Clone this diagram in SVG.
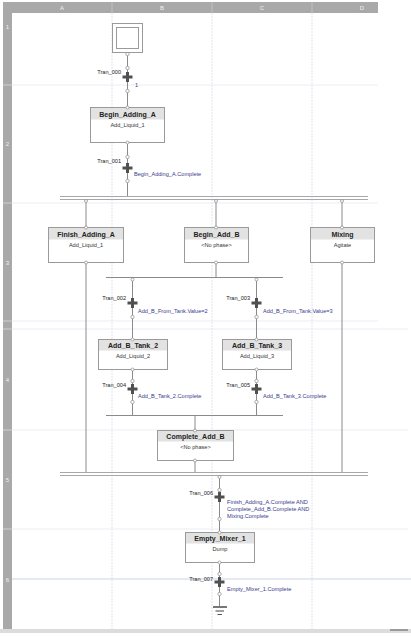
<svg xmlns="http://www.w3.org/2000/svg" width="411" height="636" viewBox="0 0 411 636">
<defs>
<style>
text{font-family:"Liberation Sans",Arial,sans-serif}
.hdr{fill:#a9a9a9}
.hdrt{font-size:6px;fill:#f0f0f0;text-anchor:middle}
.grid{stroke:#d9dcea;stroke-width:0.8;stroke-dasharray:2 1;fill:none}
.row{stroke:#e6e8f0;stroke-width:0.8;fill:none}
.ln{stroke:#8a8a8a;stroke-width:1;fill:none}
.dbl{stroke:#a8a8a8;stroke-width:1;fill:none}
.box{fill:#fff;stroke:#9a9a9a;stroke-width:1}
.bh{fill:#e2e2e2}
.ttl{font-size:7px;font-weight:bold;fill:#222;text-anchor:middle}
.sub{font-size:5.6px;fill:#333;text-anchor:middle}
.tn{font-size:5.6px;fill:#222;text-anchor:end}
.cond{font-size:5.6px;fill:#3a3a8c}
.pin{fill:#fff;stroke:#8a8a8a;stroke-width:0.7}
.cross{fill:#505050}
</style>
<g id="crossdef"><rect class="cross" x="-1.5" y="-5" width="3" height="10"/><rect class="cross" x="-5" y="-1.5" width="10" height="3"/></g>
</defs>
<rect width="411" height="636" fill="#fff"/>
<!-- grid / headers -->
<g id="grid">
<rect class="hdr" x="3" y="2" width="375" height="11"/>
<rect class="hdr" x="3" y="13" width="9" height="617"/>
<path d="M112 2V13M212 2V13M312 2V13" stroke="#c8c8c8" stroke-width="0.8"/>
<text class="hdrt" x="62" y="10">A</text>
<text class="hdrt" x="162" y="10">B</text>
<text class="hdrt" x="262" y="10">C</text>
<text class="hdrt" x="362" y="10">D</text>
<path d="M3 85H12M3 203H12M3 321H12M3 329H12M3 430H12M3 529H12" stroke="#d0d0d0" stroke-width="1.2"/>
<text class="hdrt" x="7.5" y="29">1</text>
<text class="hdrt" x="7.5" y="146">2</text>
<text class="hdrt" x="7.5" y="265">3</text>
<text class="hdrt" x="7.5" y="382">4</text>
<text class="hdrt" x="7.5" y="482">5</text>
<text class="hdrt" x="7.5" y="582">6</text>
<path class="grid" d="M112 13V630M212 13V630M312 13V630"/>
<path class="row" d="M12 85H378M12 203H378M12 321H378M12 329H408M12 430H408M12 529H408"/>
<path d="M12 579H411" stroke="#bcc8e0" stroke-width="0.8"/>
<rect x="0" y="629" width="411" height="4" fill="#dcdcdc"/>
<rect x="390" y="629" width="18" height="2" fill="#9a9a9a"/>
</g>
<!-- connectors -->
<g id="connectors">
<path class="ln" d="M127.5 54V107M127.5 142V196"/>
<path class="dbl" d="M60 196.5H368M60 199.5H368"/>
<path class="ln" d="M86 200V227M216 200V227M342 200V227"/>
<path class="ln" d="M216 262V277"/>
<path class="ln" d="M106 277.5H283"/>
<path class="ln" d="M132.5 278V339M256.5 278V339"/>
<path class="ln" d="M132.5 369V415M256.5 369V415"/>
<path class="ln" d="M106 415.5H283"/>
<path class="ln" d="M195 416V430M195 460V472"/>
<path class="ln" d="M86 262V472M342 262V472"/>
<path class="dbl" d="M60 472.5H368M60 475.5H368"/>
<path class="ln" d="M219.5 476V532M219.5 562V606"/>
<path d="M213 607H227" stroke="#555" stroke-width="1.6"/>
<path d="M215.5 611H224" stroke="#555" stroke-width="1.1"/>
<path d="M217.5 614.5H222" stroke="#555" stroke-width="1"/>
<!-- pins -->
<g>
<circle class="pin" cx="127.5" cy="54" r="1.7"/>
<circle class="pin" cx="127.5" cy="68" r="1.7"/>
<circle class="pin" cx="127.5" cy="91" r="1.7"/>
<circle class="pin" cx="127.5" cy="157" r="1.7"/>
<circle class="pin" cx="127.5" cy="181" r="1.7"/>
<circle class="pin" cx="86" cy="201" r="1.5"/>
<circle class="pin" cx="216" cy="201" r="1.5"/>
<circle class="pin" cx="342" cy="201" r="1.5"/>
<circle class="pin" cx="132.5" cy="279.5" r="1.5"/>
<circle class="pin" cx="256.5" cy="279.5" r="1.5"/>
<circle class="pin" cx="132.5" cy="317" r="1.7"/>
<circle class="pin" cx="256.5" cy="317" r="1.7"/>
<circle class="pin" cx="132.5" cy="381" r="1.7"/>
<circle class="pin" cx="256.5" cy="381" r="1.7"/>
<circle class="pin" cx="132.5" cy="402" r="1.7"/>
<circle class="pin" cx="256.5" cy="402" r="1.7"/>
<circle class="pin" cx="219.5" cy="477" r="1.5"/>
<circle class="pin" cx="219.5" cy="490" r="1.7"/>
<circle class="pin" cx="219.5" cy="519" r="1.7"/>
<circle class="pin" cx="219.5" cy="574" r="1.7"/>
<circle class="pin" cx="219.5" cy="594" r="1.7"/>
</g>
</g>
<!-- initial step -->
<g id="initial_step">
<rect x="112.5" y="23.5" width="30" height="29" fill="#fff" stroke="#9a9a9a" stroke-width="1"/>
<rect x="116.5" y="27.5" width="22" height="21" fill="#fff" stroke="#9a9a9a" stroke-width="1"/>
</g>
<!-- transitions -->
<g id="Tran_000"><use href="#crossdef" x="127.5" y="77"/><text class="tn" x="121" y="74">Tran_000</text><text class="cond" x="135" y="87">1</text></g>
<g id="Tran_001"><use href="#crossdef" x="127.5" y="168"/><text class="tn" x="121" y="163">Tran_001</text><text class="cond" x="134" y="176">Begin_Adding_A.Complete</text></g>
<g id="Tran_002"><use href="#crossdef" x="132.5" y="303"/><text class="tn" x="126" y="300">Tran_002</text><text class="cond" x="138" y="313">Add_B_From_Tank.Value=2</text></g>
<g id="Tran_003"><use href="#crossdef" x="256.5" y="303"/><text class="tn" x="250" y="300">Tran_003</text><text class="cond" x="263" y="313">Add_B_From_Tank.Value=3</text></g>
<g id="Tran_004"><use href="#crossdef" x="132.5" y="389"/><text class="tn" x="126" y="387">Tran_004</text><text class="cond" x="138" y="398">Add_B_Tank_2.Complete</text></g>
<g id="Tran_005"><use href="#crossdef" x="256.5" y="389"/><text class="tn" x="250" y="387">Tran_005</text><text class="cond" x="263" y="398">Add_B_Tank_3.Complete</text></g>
<g id="Tran_006"><use href="#crossdef" x="219.5" y="497"/><text class="tn" x="213" y="495">Tran_006</text><text class="cond" x="227" y="504">Finish_Adding_A.Complete AND</text><text class="cond" x="227" y="511">Complete_Add_B.Complete AND</text><text class="cond" x="227" y="518">Mixing.Complete</text></g>
<g id="Tran_007"><use href="#crossdef" x="219.5" y="582"/><text class="tn" x="213" y="581">Tran_007</text><text class="cond" x="227" y="591">Empty_Mixer_1.Complete</text></g>
<!-- steps -->
<g id="Begin_Adding_A"><rect class="box" x="90.5" y="107.5" width="74" height="35"/><rect class="bh" x="91" y="108" width="73" height="11.5"/><text class="ttl" x="127.5" y="116.5">Begin_Adding_A</text><text class="sub" x="127.5" y="127">Add_Liquid_1</text><circle class="pin" cx="127.5" cy="107.5" r="1.5"/><circle class="pin" cx="127.5" cy="142.5" r="1.5"/></g>
<g id="Finish_Adding_A"><rect class="box" x="48.5" y="227.5" width="75" height="35"/><rect class="bh" x="49" y="228" width="74" height="11.5"/><text class="ttl" x="86" y="236.5">Finish_Adding_A</text><text class="sub" x="86" y="247">Add_Liquid_1</text><circle class="pin" cx="86" cy="227.5" r="1.5"/><circle class="pin" cx="86" cy="262.5" r="1.5"/></g>
<g id="Begin_Add_B"><rect class="box" x="184.5" y="227.5" width="64" height="35"/><rect class="bh" x="185" y="228" width="63" height="11.5"/><text class="ttl" x="216.5" y="236.5">Begin_Add_B</text><text class="sub" x="216.5" y="247">&lt;No phase&gt;</text><circle class="pin" cx="216" cy="227.5" r="1.5"/><circle class="pin" cx="216" cy="262.5" r="1.5"/></g>
<g id="Mixing"><rect class="box" x="310.5" y="227.5" width="64" height="35"/><rect class="bh" x="311" y="228" width="63" height="11.5"/><text class="ttl" x="342.5" y="236.5">Mixing</text><text class="sub" x="342.5" y="247">Agitate</text><circle class="pin" cx="342" cy="227.5" r="1.5"/><circle class="pin" cx="342" cy="262.5" r="1.5"/></g>
<g id="Add_B_Tank_2"><rect class="box" x="98.5" y="339.5" width="69" height="30"/><rect class="bh" x="99" y="340" width="68" height="10.5"/><text class="ttl" x="133" y="348">Add_B_Tank_2</text><text class="sub" x="133" y="357.5">Add_Liquid_2</text><circle class="pin" cx="132.5" cy="339.5" r="1.5"/><circle class="pin" cx="132.5" cy="369.5" r="1.5"/></g>
<g id="Add_B_Tank_3"><rect class="box" x="222.5" y="339.5" width="69" height="30"/><rect class="bh" x="223" y="340" width="68" height="10.5"/><text class="ttl" x="257" y="348">Add_B_Tank_3</text><text class="sub" x="257" y="357.5">Add_Liquid_3</text><circle class="pin" cx="256.5" cy="339.5" r="1.5"/><circle class="pin" cx="256.5" cy="369.5" r="1.5"/></g>
<g id="Complete_Add_B"><rect class="box" x="157.5" y="430.5" width="76" height="30"/><rect class="bh" x="158" y="431" width="75" height="10.5"/><text class="ttl" x="195.5" y="439">Complete_Add_B</text><text class="sub" x="195.5" y="448.5">&lt;No phase&gt;</text><circle class="pin" cx="195" cy="430.5" r="1.5"/><circle class="pin" cx="195" cy="460.5" r="1.5"/></g>
<g id="Empty_Mixer_1"><rect class="box" x="185.5" y="532.5" width="69" height="30"/><rect class="bh" x="186" y="533" width="68" height="10.5"/><text class="ttl" x="220" y="541">Empty_Mixer_1</text><text class="sub" x="220" y="550.5">Dump</text><circle class="pin" cx="219.5" cy="532.5" r="1.5"/><circle class="pin" cx="219.5" cy="562.5" r="1.5"/></g>
</svg>
